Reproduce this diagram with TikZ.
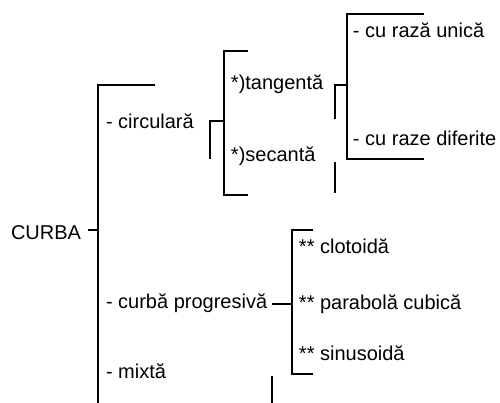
\documentclass[tikz,border=0pt]{standalone}
\usepackage{fontspec}
\setmainfont{Liberation Sans}
\begin{document}
\begin{tikzpicture}[x=0.5pt,y=-0.5pt,line width=1pt,
  lbl/.style={anchor=base west,inner sep=0pt,font=\fontsize{10}{12}\selectfont}]
  \useasboundingbox (0,0) rectangle (500,403);
  % texts
  \node[lbl] (curba) at (10,239) {CURBA};
  \node[lbl] (circ) at (105,128) {- circular\u{a}};
  \node[lbl] (prog) at (105,308) {- curb\u{a} progresiv\u{a}};
  \node[lbl] (mixt) at (105,378) {- mixt\u{a}};
  \node[lbl] (tang) at (230,89) {*)tangent\u{a}};
  \node[lbl] (sec) at (230,161) {*)secant\u{a}};
  \node[lbl] (unica) at (352,37) {- cu raz\u{a} unic\u{a}};
  \node[lbl] (dif) at (352,145) {- cu raze diferite};
  \node[lbl] (clot) at (298,253) {** clotoid\u{a}};
  \node[lbl] (parab) at (298,309) {** parabol\u{a} cubic\u{a}};
  \node[lbl] (sinus) at (298,360) {** sinusoid\u{a}};
  % brackets
  \coordinate (sp0) at (98,85);
  \coordinate (sp1) at (224,51);
  \coordinate (sp2) at (347,14);
  \coordinate (sp3) at (292,230);
  \draw (155,85) -- (sp0) -- (98,403);
  \draw ([xshift=3pt]curba.east |- 0,230) -- (sp0 |- 0,230);
  \draw (210,159) -- (210,121) -- (sp1 |- 0,121);
  \draw (248,51) -- (sp1) -- (224,195) -- (248,195);
  \draw (335,119) -- (335,85) -- (sp2 |- 0,85);
  \draw (424,14) -- (sp2) -- (347,159) -- (424,159);
  \draw (335,162) -- (335,193);
  \draw (272,304) -- (sp3 |- 0,304);
  \draw (313,230) -- (sp3) -- (292,374) -- (313,374);
  \draw (272,376) -- (272,403);
\end{tikzpicture}
\end{document}
